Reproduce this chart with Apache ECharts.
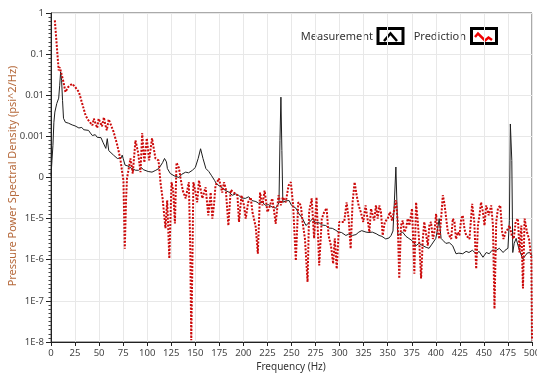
<!DOCTYPE html>
<html>
<head>
<meta charset="utf-8">
<script src="https://cdn.jsdelivr.net/npm/echarts@6/dist/echarts.min.js"></script>
<style>
  html, body { margin: 0; padding: 0; background: #fff; }
  #chart { width: 537px; height: 374px; }
</style>
</head>
<body>
<div id="chart"></div>
<script>
// tick labels as printed on the original chart
const xTicks = [0, 25, 50, 75, 100, 125, 150, 175, 200, 225, 250, 275, 300, 325, 350, 375, 400, 425, 450, 475, 500];
const yTickLabels = ["1", "0.1", "0.01", "0.001", "0", "1E-5", "1E-6", "1E-7", "1E-8"];
const seriesNames = ["Measurement", "Prediction"];

// Measurement PSD (psi^2/Hz) vs frequency (Hz)
const measFreq = [
  0, 1, 2, 3, 4, 6, 8, 9, 10, 11, 12, 13, 15, 18, 20, 22, 25, 27, 29, 32,
  34, 36, 39, 41, 43, 46, 48, 50, 52, 54, 56, 57, 58.5, 60, 62, 65, 67, 69, 71, 73,
  74, 75, 77, 80, 82, 84, 86, 88, 91, 94, 96, 98, 101, 103, 105, 109, 112, 114, 116, 118,
  119, 120, 121, 124, 126, 128, 130, 133, 136, 138, 140, 143, 145, 147, 150, 153, 155.5, 158, 161, 164,
  167, 170, 172, 174, 177, 179, 181.5, 185, 188.5, 192, 195, 198, 202, 205.5, 209, 213, 216, 219, 223, 226,
  230, 233.5, 236, 237, 238, 239, 240, 241, 244, 247.5, 250, 254.5, 257.5, 261.5, 265, 268, 272, 275, 278.5, 281.5,
  285.5, 289, 292.5, 296, 299, 302, 306.5, 309.5, 313.5, 317, 320, 323, 327.5, 330.5, 334, 338, 341, 344, 348, 351.5,
  353.5, 355.5, 357, 358.5, 359.5, 360.5, 363, 365.5, 369, 372, 375, 379.5, 382.5, 386.5, 390, 393, 396, 400, 402, 403.5,
  405.5, 407.5, 410.5, 414, 417.5, 421, 424, 428, 431.5, 434.5, 438, 442, 445, 449, 452.5, 455.5, 458.5, 463, 466, 470,
  472, 475, 476.5, 477.5, 479, 480, 481.5, 483.5, 485.5, 488, 490.5, 493, 495, 497.5, 499, 500
];
const measPsd = [
  1.1e-4, 2.6e-4, 6e-4, 2.2e-3, 3.9e-3, 6.3e-3, 8.5e-3, 0.017, 0.037, 0.023, 7.5e-3, 2.75e-3, 2.2e-3, 2.1e-3, 2.0e-3, 1.9e-3, 1.8e-3, 1.7e-3, 1.6e-3, 1.65e-3,
  1.45e-3, 1.3e-3, 1.4e-3, 1.2e-3, 1.05e-3, 1.1e-3, 9.5e-4, 9e-4, 9.3e-4, 7.2e-4, 7e-4, 5.1e-4, 8.8e-4, 4.5e-4, 4.6e-4, 3.5e-4, 3.2e-4, 2.9e-4, 2.6e-4, 3.0e-4,
  3.5e-4, 2.9e-4, 2.0e-4, 1.9e-4, 1.75e-4, 1.65e-4, 1.6e-4, 1.5e-4, 1.5e-4, 1.75e-4, 1.55e-4, 1.5e-4, 1.4e-4, 1.45e-4, 1.35e-4, 1.5e-4, 1.65e-4, 1.8e-4, 2.3e-4, 2.9e-4,
  3.2e-4, 2.4e-4, 1.65e-4, 1.25e-4, 1.15e-4, 1.1e-4, 1.05e-4, 1.0e-4, 1.2e-4, 1.25e-4, 1.35e-4, 1.3e-4, 1.4e-4, 1.5e-4, 1.75e-4, 2.9e-4, 5e-4, 2.9e-4, 1.65e-4, 1.4e-4,
  1.1e-4, 8.5e-5, 7e-5, 6.4e-5, 5.8e-5, 5.2e-5, 4.8e-5, 4.4e-5, 3.7e-5, 4e-5, 3.7e-5, 3.2e-5, 3.1e-5, 3.4e-5, 2.75e-5, 2.6e-5, 2.35e-5, 2.6e-5, 2.1e-5, 2.2e-5,
  1.9e-5, 1.8e-5, 2.2e-5, 2.5e-5, 8e-4, 9e-3, 4.5e-4, 2.5e-5, 2.7e-5, 2.75e-5, 2.1e-5, 1.8e-5, 1.35e-5, 1e-5, 6.8e-6, 7.9e-6, 1e-5, 7.9e-6, 8e-6, 7e-6,
  6.8e-6, 5.9e-6, 5.8e-6, 5.2e-6, 4.7e-6, 4.6e-6, 3.9e-6, 4.2e-6, 3.9e-6, 4.1e-6, 4.7e-6, 5.1e-6, 4.7e-6, 4.6e-6, 4.7e-6, 4.3e-6, 3.9e-6, 3.7e-6, 3.2e-6, 3.4e-6,
  3.9e-6, 5e-6, 2.8e-5, 1.8e-4, 2.8e-5, 3.9e-6, 4.3e-6, 4.7e-6, 3.7e-6, 3.3e-6, 2.95e-6, 2.2e-6, 2.5e-6, 2.2e-6, 2e-6, 1.9e-6, 2.4e-6, 3.3e-6, 5.8e-6, 1e-5,
  3.3e-6, 2.95e-6, 2.5e-6, 2.6e-6, 2.2e-6, 1.4e-6, 1.45e-6, 1.4e-6, 1.6e-6, 1.5e-6, 1.7e-6, 1.4e-6, 1.6e-6, 1.15e-6, 1.5e-6, 1.4e-6, 1.7e-6, 1.7e-6, 1.9e-6, 1.5e-6,
  1.7e-6, 1.9e-6, 9e-6, 2e-3, 2.6e-4, 1.5e-6, 2.5e-6, 3.3e-6, 2.2e-6, 1.45e-6, 1.05e-6, 1.25e-6, 1.45e-6, 1.5e-6, 1.4e-6, 1.25e-6
];

// Prediction PSD (psi^2/Hz) vs frequency (Hz)
const predFreq = [
  4, 5.5, 7.3, 8, 9, 10, 11.5, 13, 15, 18, 22, 25, 29, 32, 36, 39, 41, 43, 44.5, 46,
  48, 49.5, 51, 53, 55, 56.5, 58, 60, 62, 65, 69, 72, 74, 75.3, 76.7, 78, 79, 82.6, 85, 87.8,
  90.6, 93, 94.8, 97, 99.6, 102, 105, 108.6, 111.8, 113.9, 116, 119, 120.8, 123, 125.3, 127, 128.8, 130.5, 133, 134.7,
  137, 140, 141.7, 143.3, 144.8, 145.8, 147, 148, 150.3, 152, 153.8, 157.3, 160.7, 163.5, 166, 167.7, 169.4, 171, 174.6, 178,
  179.8, 181.6, 184.4, 186.8, 190, 193.8, 195.4, 198, 200.6, 202.4, 205, 207.6, 209.4, 212.8, 215, 217.3, 219.8, 222, 225, 226.7,
  230, 232, 233.6, 236.5, 238.9, 241, 244, 247, 249.3, 251.7, 254.5, 257, 259.7, 261.5, 264, 266.7, 268.3, 271, 273.5, 276,
  278.8, 281.5, 284, 286.5, 288.5, 291, 293.3, 295, 297, 299.6, 302.4, 304.8, 307.3, 309.4, 311.5, 313.5, 315.6, 317.7, 319.8, 322,
  324.6, 327, 329, 331, 332.6, 336, 337.8, 339.6, 341.3, 343, 344.8, 347, 350, 352.4, 354.5, 357, 358.6, 360.4, 362, 363.8,
  365.6, 367.3, 369, 370.8, 372.5, 375.3, 377.7, 379.5, 381.3, 383, 384.7, 386.5, 388, 390, 391.7, 393.3, 395, 397, 398.5, 400.3,
  402, 403.8, 405.5, 407.3, 409, 410.7, 412.5, 414, 416, 417.7, 419.4, 421, 423, 424.6, 426.4, 428, 429.8, 431.6, 435, 437.8,
  440, 442, 443.8, 445.4, 447, 449, 450.6, 452.4, 455, 457.6, 459.4, 461, 462.8, 464.6, 467, 469, 470.4, 472.5, 475, 476.7,
  479, 481, 483, 485.4, 487, 488.9, 490.6, 492.3, 494.8, 496.9, 499.3, 500
];
const predPsd = [
  0.66, 0.63, 0.065, 0.04, 0.048, 0.04, 0.037, 0.021, 0.012, 0.016, 0.019, 0.016, 0.012, 6.8e-3, 3.2e-3, 2.45e-3, 2.7e-3, 1.85e-3, 2.7e-3, 2.7e-3,
  1.6e-3, 2.7e-3, 2.45e-3, 1.75e-3, 2.9e-3, 1.9e-3, 1.4e-3, 2.6e-3, 2.45e-3, 1.3e-3, 6e-4, 2.9e-4, 1.35e-4, 8.5e-5, 1.85e-6, 2.8e-5, 9.5e-5, 2.9e-4, 1.25e-4, 8e-4,
  4e-4, 1.35e-4, 1.2e-3, 2.3e-4, 9e-4, 2.6e-4, 9e-4, 2.9e-4, 2.6e-4, 7.2e-5, 3.1e-5, 5.8e-6, 2.8e-5, 1.07e-6, 7.7e-5, 4.8e-5, 7.6e-6, 2.3e-4, 1.7e-4, 9.5e-5,
  4.8e-5, 3.1e-5, 2.8e-5, 7.7e-5, 1.7e-6, 1.1e-8, 9.5e-7, 7.7e-5, 4.3e-5, 2.5e-5, 8.5e-5, 3.1e-5, 5.8e-5, 1.2e-5, 4.3e-5, 1e-5, 2.1e-5, 6.4e-5, 9.5e-5, 4.3e-5,
  7.7e-5, 5.5e-5, 6.8e-6, 5e-5, 4.3e-5, 3.7e-5, 8.3e-6, 3.7e-5, 2.1e-5, 1e-5, 2.5e-5, 3.3e-5, 1.45e-5, 6.3e-6, 1.4e-6, 4.3e-5, 2.1e-5, 4.8e-5, 1.45e-5, 1.8e-5,
  3.1e-5, 1.45e-5, 7.5e-6, 3.7e-5, 2.1e-5, 3.3e-5, 2.5e-5, 6.4e-5, 7.7e-5, 2.1e-5, 9.5e-7, 2.5e-5, 2.1e-5, 8.3e-6, 3.2e-6, 2.9e-7, 1.45e-5, 3.1e-5, 3.3e-6, 3.3e-5,
  7.3e-7, 1e-5, 1.45e-5, 1.8e-5, 3.9e-6, 2.2e-6, 8e-7, 3.3e-6, 6e-7, 8.3e-6, 8.3e-6, 8.3e-6, 2.5e-5, 1e-5, 1.85e-6, 2.5e-5, 7.7e-5, 3.7e-5, 2.1e-5, 1.45e-5,
  8.3e-6, 2.1e-5, 1e-5, 4.7e-6, 1.75e-5, 9e-6, 2.1e-5, 1e-5, 2.1e-5, 1.45e-5, 3.9e-6, 8.3e-6, 1e-5, 1.45e-5, 9e-6, 1.75e-5, 2.8e-5, 8.3e-6, 3.5e-7, 6.8e-6,
  9e-6, 4.7e-6, 5.6e-6, 1e-5, 6.8e-6, 1.75e-5, 4.6e-7, 2.5e-5, 8.3e-6, 2.2e-6, 3.5e-7, 3.2e-6, 8.3e-6, 9e-6, 2.2e-6, 6.8e-6, 8.3e-6, 3.2e-6, 4.7e-6, 1.3e-5,
  4.7e-6, 3.2e-6, 1e-5, 3.7e-5, 2.3e-5, 2.1e-5, 4.7e-6, 3.9e-6, 3.2e-6, 1e-5, 8.3e-6, 3.2e-6, 4.7e-6, 3.9e-6, 1e-5, 1.2e-5, 5.6e-6, 3.9e-6, 3.2e-6, 2.3e-5,
  8.3e-6, 6e-7, 6.8e-6, 1.2e-5, 2.5e-5, 1.45e-5, 6.8e-6, 2.1e-5, 1.2e-5, 2.1e-5, 6.8e-6, 6.4e-8, 8.3e-6, 1.75e-5, 2.1e-5, 4.7e-6, 3.2e-6, 4.7e-6, 5.6e-6, 6.8e-6,
  3.9e-6, 3.2e-6, 8.3e-6, 1e-5, 1.5e-6, 6.8e-6, 2e-7, 1e-5, 4.7e-6, 3.2e-6, 1.1e-6, 1.1e-8
];

const FONT = "'Noto Sans', 'DejaVu Sans', sans-serif";
const AXIS_TEXT = "#444";
const GRID_LINE = "#e8e8e8";

function pairs(xs, ys) {
  return xs.map((x, i) => [x, ys[i]]);
}

function yLabel(value) {
  const idx = Math.round(-Math.log10(value));
  return yTickLabels[idx] !== undefined ? yTickLabels[idx] : "";
}

const decadeMin = -(yTickLabels.length - 1);

const chart = echarts.init(document.getElementById("chart"), null, { renderer: "canvas" });

chart.setOption({
  animation: false,
  backgroundColor: "#fff",
  textStyle: { fontFamily: FONT },
  legend: { show: false },
  grid: {
    left: 51,
    right: 5,
    top: 13,
    bottom: 32,
    show: true,
    borderColor: "#555",
    borderWidth: 1,
    containLabel: false,
    outerBoundsMode: "none"
  },
  xAxis: {
    type: "value",
    min: xTicks[0],
    max: xTicks[xTicks.length - 1],
    interval: xTicks[1] - xTicks[0],
    axisLine: { show: true, onZero: false, lineStyle: { color: "#222", width: 1 } },
    axisTick: { show: true, length: 4, lineStyle: { color: "#222" } },
    axisLabel: { color: AXIS_TEXT, fontSize: 9.5, fontFamily: FONT, margin: 6, hideOverlap: false },
    splitLine: { show: true, lineStyle: { color: GRID_LINE, width: 1 } }
  },
  yAxis: [
    {
      type: "log",
      logBase: 10,
      min: Math.pow(10, decadeMin),
      max: 1,
      splitNumber: 8,
      axisLine: { show: true, lineStyle: { color: "#222", width: 1 } },
      axisTick: { show: true, length: 5, lineStyle: { color: "#222" } },
      minorTick: { show: false },
      axisLabel: { color: AXIS_TEXT, fontSize: 9.5, fontFamily: FONT, margin: 7, formatter: yLabel },
      splitLine: { show: true, lineStyle: { color: GRID_LINE, width: 1 } }
    },
    {
      // exponent axis, only used to draw the evenly spaced minor ticks
      type: "value",
      position: "left",
      min: decadeMin,
      max: 0,
      interval: 1,
      axisLine: { show: false },
      axisTick: { show: false },
      axisLabel: { show: false },
      splitLine: { show: false },
      minorTick: { show: true, splitNumber: 10, length: 2.5, lineStyle: { color: "#444" } },
      minorSplitLine: { show: false }
    }
  ],
  graphic: [
    {
      type: "text",
      x: 13,
      y: 176,
      rotation: Math.PI / 2,
      style: {
        text: "Pressure Power Spectral Density (psi^2/Hz)",
        fill: "#b5683a",
        font: "11px " + FONT,
        align: "center",
        verticalAlign: "middle"
      }
    },
    {
      type: "text",
      x: 291,
      y: 367,
      style: {
        text: "Frequency (Hz)",
        fill: "#333",
        font: "10px " + FONT,
        align: "center",
        verticalAlign: "middle"
      }
    },
    {
      type: "text",
      x: 373,
      y: 37,
      style: { text: seriesNames[0], fill: "#333", font: "11px " + FONT, align: "right", verticalAlign: "middle" }
    },
    {
      type: "rect",
      shape: { x: 378, y: 28.5, width: 25, height: 15 },
      style: { fill: "#fff", stroke: "#000", lineWidth: 3 }
    },
    {
      type: "polyline",
      shape: { points: [[384, 41], [390.5, 33.5], [397, 41]] },
      style: { stroke: "#000", lineWidth: 2.5, fill: null }
    },
    {
      type: "text",
      x: 466,
      y: 37,
      style: { text: seriesNames[1], fill: "#333", font: "11px " + FONT, align: "right", verticalAlign: "middle" }
    },
    {
      type: "rect",
      shape: { x: 471.5, y: 28.5, width: 25, height: 15 },
      style: { fill: "#fff", stroke: "#000", lineWidth: 3 }
    },
    {
      type: "polyline",
      shape: { points: [[475, 37], [478, 33.5], [485, 40.5], [488.5, 37.5], [492, 40]] },
      style: { stroke: "#f00000", lineWidth: 2.5, fill: null }
    }
  ],
  series: [
    {
      name: seriesNames[0],
      type: "line",
      yAxisIndex: 0,
      showSymbol: false,
      smooth: false,
      lineStyle: { color: "#1e1e1e", width: 1 },
      itemStyle: { color: "#1e1e1e" },
      data: pairs(measFreq, measPsd)
    },
    {
      name: seriesNames[1],
      type: "line",
      yAxisIndex: 0,
      showSymbol: false,
      smooth: false,
      lineStyle: { color: "#cc0a0a", width: 2, type: [2, 1.5] },
      itemStyle: { color: "#cc0a0a" },
      data: pairs(predFreq, predPsd)
    }
  ]
});
</script>
</body>
</html>
